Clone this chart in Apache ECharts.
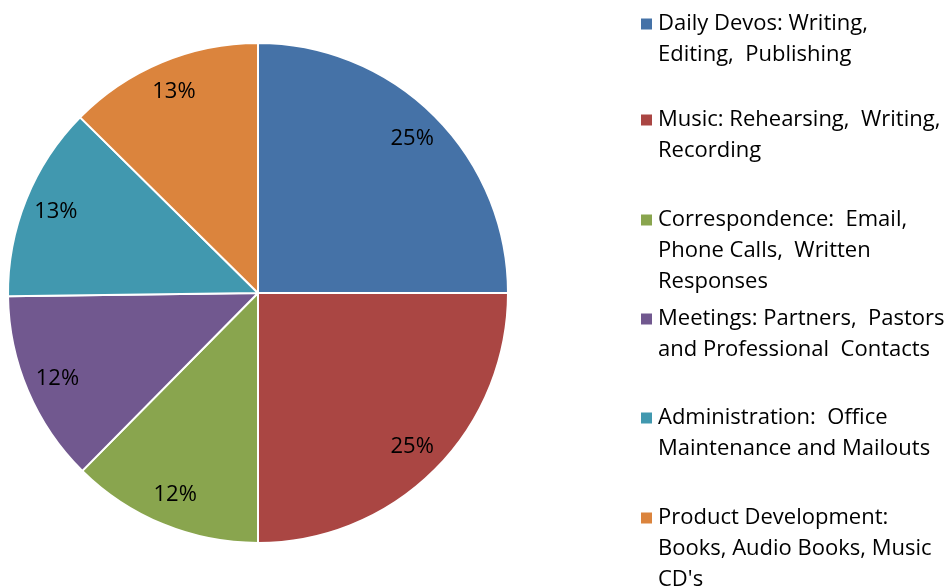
<!DOCTYPE html>
<html>
<head>
<meta charset="utf-8">
<script src="https://cdn.jsdelivr.net/npm/echarts@6/dist/echarts.min.js"></script>
<style>
  html, body { margin: 0; padding: 0; background: #fff; }
  #chart { width: 945px; height: 588px; }
</style>
</head>
<body>
<div id="chart"></div>
<script>
// categories, in clockwise order from 12 o'clock
var categories = [
    'Daily Devos: Writing,\nEditing,  Publishing',
    'Music: Rehearsing,  Writing,\nRecording',
    'Correspondence:  Email,\nPhone Calls,  Written\nResponses',
    'Meetings: Partners,  Pastors\nand Professional  Contacts',
    'Administration:  Office\nMaintenance and Mailouts',
    'Product Development:\nBooks, Audio Books, Music\nCD\'s'
];
var values = [25, 25, 12.4, 12.4, 12.6, 12.6];
var colors = ['#4572A7', '#AA4643', '#89A54E', '#71588F', '#4198AF', '#DB843D'];
// y of each legend marker (first text line)
var legendRows = [24, 120, 220, 319, 418, 518];

var FONT = 'Open Sans';
var LINE_H = 31;

var chart = echarts.init(document.getElementById('chart'));

var pieData = [];
for (var i = 0; i < categories.length; i++) {
    pieData.push({ name: categories[i], value: values[i], itemStyle: { color: colors[i] } });
}

// one legend per item so the marker sits on the first line:
// blank lines are put in front so the marker (centred on the block) lines up with line 1
var legends = [];
for (var j = 0; j < categories.length; j++) {
    var n = categories[j].split('\n').length;
    legends.push({
        data: [categories[j]],
        left: 639,
        top: legendRows[j] - (2 * n - 1) * LINE_H / 2,
        padding: 0,
        icon: 'rect',
        itemWidth: 13,
        itemHeight: 13,
        itemGap: 0,
        selectedMode: false,
        formatter: (function (lines) {
            return function (name) {
                return new Array(lines).join(' \n') + name;
            };
        })(n),
        textStyle: {
            fontFamily: FONT,
            fontSize: 22,
            color: '#000',
            lineHeight: LINE_H
        }
    });
}

var option = {
    backgroundColor: '#fff',
    animation: false,
    legend: legends,
    series: [
        {
            name: 'time',
            type: 'pie',
            center: [258, 293],
            radius: [0, 250],
            startAngle: 90,
            clockwise: true,
            label: { show: false },
            labelLine: { show: false },
            itemStyle: { borderColor: '#fff', borderWidth: 2 },
            emphasis: { disabled: true },
            data: pieData
        },
        {
            // invisible ring that only carries the percent labels
            name: 'labels',
            type: 'pie',
            center: [258, 293],
            radius: [180, 250],
            startAngle: 90,
            clockwise: true,
            silent: true,
            itemStyle: { color: 'rgba(0,0,0,0)', borderWidth: 0 },
            label: {
                show: true,
                position: 'inside',
                fontFamily: FONT,
                fontSize: 22,
                color: '#000',
                formatter: function (p) {
                    return Math.round(p.percent) + '%';
                }
            },
            labelLine: { show: false },
            data: values.map(function (v, k) { return { name: categories[k], value: v }; })
        }
    ]
};

chart.setOption(option);

window.addEventListener('resize', function () {
    chart.resize();
});
</script>
</body>
</html>
